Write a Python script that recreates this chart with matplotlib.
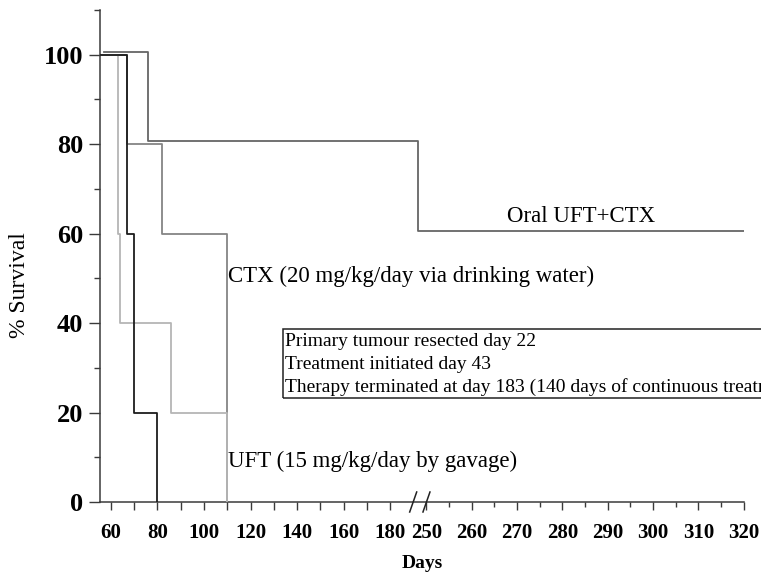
import numpy as np
import matplotlib
matplotlib.use("Agg")
import matplotlib.pyplot as plt
from matplotlib.lines import Line2D

plt.rcParams['font.family'] = ['Liberation Serif', 'DejaVu Serif']

# Kaplan-Meier steps: day of each event and % survival after it
control_days = [55.5, 67, 70, 80]
control_surv = [100, 60, 20, 0]

uft_days = [55.5, 63, 64, 86, 110]
uft_surv = [100, 60, 40, 20, 0]

ctx_days = [55.5, 67, 82, 110]
ctx_surv = [100, 80, 60, 0]

# combination curve is nudged up slightly so it stays visible
combo_days = [57, 76, 192, 320]
combo_surv = [100.5, 80.6, 60.6, 60.6]

left_ticks = list(range(60, 190, 10))
left_labels = [str(d) if d % 20 == 0 else '' for d in left_ticks]
right_ticks = list(range(250, 330, 10))
right_labels = [str(d) for d in right_ticks]
right_minor = list(range(255, 320, 10))
y_ticks = [0, 20, 40, 60, 80, 100]
y_minor = [10, 30, 50, 70, 90, 110]

box_lines = ["Primary tumour resected day 22",
             "Treatment initiated day 43",
             "Therapy terminated at day 183 (140 days of continuous treatment)"]

# broken x axis: days 192..248.2 collapse to one point, right part stretched
BRK_L, BRK_R = 192.0, 248.2
K = 4.53 / 2.33


def fwd(x):
    x = np.asarray(x, dtype=float)
    return np.where(x <= BRK_L, x,
                    np.where(x < BRK_R, BRK_L, BRK_L + (x - BRK_R) * K))


def inv(u):
    u = np.asarray(u, dtype=float)
    return np.where(u <= BRK_L, u, BRK_R + (u - BRK_L) / K)


W, H = 761, 572
fig = plt.figure(figsize=(W / 100, H / 100), dpi=100)
ax = fig.add_axes([100 / W, (H - 502) / H, (743.6 - 100) / W, (502 - 10) / H])
ax.set_xscale('function', functions=(fwd, inv))
ax.set_xlim(55.4, 320)
ax.set_ylim(0, 110)

ax.plot(ctx_days, ctx_surv, drawstyle='steps-post', color='#858585', lw=1.3, zorder=2)
ax.plot(uft_days, uft_surv, drawstyle='steps-post', color='#b5b5b5', lw=1.3, zorder=3)
ax.plot(control_days, control_surv, drawstyle='steps-post', color='#1c1c1c', lw=1.3, zorder=4)
ax.plot(combo_days, combo_surv, drawstyle='steps-post', color='#666666', lw=1.3, zorder=2)

for s in ['top', 'right']:
    ax.spines[s].set_visible(False)
for s in ['left', 'bottom']:
    ax.spines[s].set_color('#3a3a3a')
    ax.spines[s].set_linewidth(1.1)

ax.set_xticks(left_ticks + right_ticks, left_labels + right_labels)
ax.set_xticks(right_minor, minor=True)
ax.set_yticks(y_ticks)
ax.set_yticks(y_minor, minor=True)
ax.tick_params(axis='x', which='major', length=6, width=1, color='#3a3a3a',
               labelsize=15, pad=9)
ax.tick_params(axis='x', which='minor', length=3.5, width=1, color='#3a3a3a')
ax.tick_params(axis='y', which='major', length=8, width=1, color='#3a3a3a',
               labelsize=19, pad=4)
ax.tick_params(axis='y', which='minor', length=4, width=1, color='#3a3a3a')
for lab in ax.get_xticklabels() + ax.get_yticklabels():
    lab.set_fontweight('bold')

ax.set_xlabel('Days', fontsize=14, fontweight='bold', labelpad=9)
fig.text(20 / W, 1 - 285 / H, '% Survival', rotation=90, fontsize=17,
         ha='center', va='center')

fig.text(507 / W, 1 - 216 / H, 'Oral UFT+CTX', fontsize=16.5, va='center')
fig.text(228 / W, 1 - 276 / H, 'CTX (20 mg/kg/day via drinking water)',
         fontsize=16.5, va='center')
fig.text(228 / W, 1 - 461 / H, 'UFT (15 mg/kg/day by gavage)',
         fontsize=16.5, va='center')

# annotation box running off the right edge
box = plt.Rectangle((283 / W, 1 - 398 / H), 500 / W, 69 / H, transform=fig.transFigure,
                    fill=False, edgecolor='#222222', lw=1.1, clip_on=False)
fig.add_artist(box)
for i, line in enumerate(box_lines):
    fig.text(285 / W, 1 - (342 + 22.5 * i) / H, line, fontsize=14, va='center')

# break marks on the x axis
fig.canvas.draw()
for day in (189.8, 250.0):
    px, py = ax.transData.transform((day, 0))
    fig.add_artist(Line2D([px - 3.5, px + 3.5], [py - 10, py + 10],
                          transform=None, color='#222222', lw=1.1))

fig.savefig('out.png', dpi=100)
